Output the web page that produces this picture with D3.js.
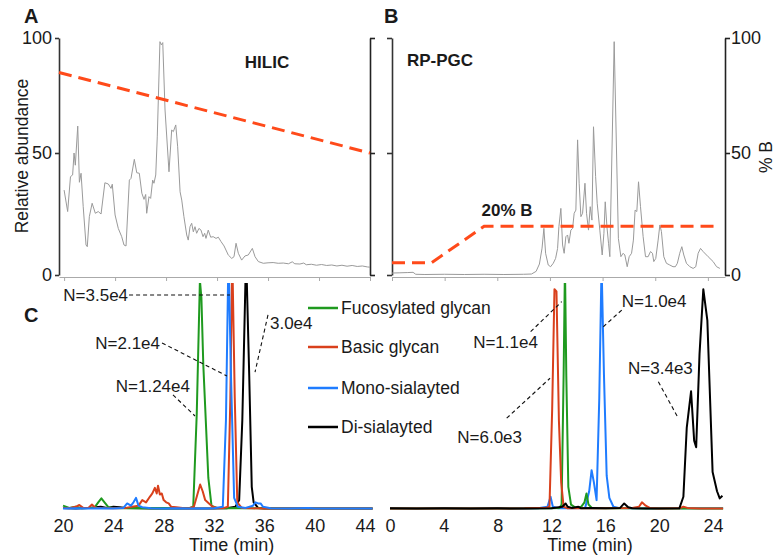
<!DOCTYPE html>
<html>
<head>
<meta charset="utf-8">
<script src="https://cdn.jsdelivr.net/npm/d3@7"></script>
<style>
  body { margin: 0; background: #fff; }
  svg { display: block; font-family: "Liberation Sans", Arial, sans-serif; }
</style>
</head>
<body>
<svg id="chart" width="777" height="555"></svg>
<script>
// ---------- data ----------
// Total ion chromatograms, [time (min), relative abundance]
const hilicTic = [
  [20.0,34.8],[20.28,26],[20.5,40.3],[20.67,41],[20.78,50],[20.88,45],[21.07,61.7],[21.2,38],[21.33,41.7],
  [21.5,28],[21.72,12.3],[21.82,11.6],[21.98,23.9],[22.2,29.4],[22.45,25.3],[22.68,26],[22.9,25],[23.2,37.8],
  [23.47,37.3],[23.68,35.5],[23.78,37.2],[24.0,24.6],[24.25,19.1],[24.52,15.7],[24.7,12.3],[24.86,11.9],
  [25.12,38.9],[25.25,39.6],[25.51,47.4],[25.7,41.9],[25.9,41.7],[26.1,33.5],[26.27,31],[26.4,33],[26.48,25.3],
  [26.66,32.1],[26.79,31.4],[26.95,38.9],[27.05,37.6],[27.19,41],[27.31,57],[27.52,98.4],[27.63,97],[27.74,98],
  [27.92,68.7],[28.23,42.3],[28.44,60],[28.57,59.3],[28.76,62.2],[28.91,52.7],[29.1,34.1],[29.23,30.7],
  [29.4,23.9],[29.62,16.4],[29.74,14.3],[29.88,19.8],[30.01,21.2],[30.14,17.7],[30.27,19.8],[30.4,17.1],
  [30.58,19.1],[30.74,18.4],[30.9,15.7],[31.03,17.1],[31.13,15],[31.31,18.4],[31.5,15.5],[31.7,15.7],
  [31.92,15],[32.1,15.5],[32.31,13.7],[32.55,11.9],[32.88,8.2],[33.15,6.8],[33.33,7.5],[33.49,13],
  [33.67,8.9],[33.93,6.1],[34.19,7.8],[34.45,8.2],[34.77,10.9],[34.98,7.5],[35.24,5.5],[35.63,4.8],
  [36.0,5.0],[36.4,5.1],[36.8,4.8],[37.2,4.9],[37.6,4.6],[37.9,5.4],[38.1,4.6],[38.5,4.5],[38.8,4.9],
  [39.0,4.2],[39.4,4.4],[39.8,4.0],[40.2,4.3],[40.6,3.9],[41.0,4.1],[41.4,3.7],[41.8,4.0],[42.2,3.6],
  [42.6,3.9],[43.0,3.5],[43.4,3.7],[43.8,3.3],[44.0,3.2]
];
const pgcTic = [
  [0,0.8],[0.6,0.9],[1.2,1.0],[1.6,1.1],[1.8,0.3],[2.5,0.2],[4,0.3],[5.5,0.2],[7,0.3],[8.5,0.2],[10,0.3],
  [10.6,0.4],[10.95,1.5],[11.2,4.5],[11.4,11],[11.54,19.1],[11.67,8.9],[11.87,4.1],[12.05,3.4],[12.25,4.8],
  [12.43,6.8],[12.58,10.9],[12.68,19.8],[12.83,27.3],[12.96,12.3],[13.08,8.9],[13.21,15.7],[13.34,16.4],
  [13.44,13],[13.59,18.4],[13.72,19.1],[13.84,25.3],[13.97,26.6],[14.1,55.7],[14.22,37.6],[14.35,23.9],
  [14.48,25.3],[14.66,37.6],[14.78,25.3],[14.93,18.4],[15.06,28],[15.19,22.5],[15.31,61.4],[15.47,40.3],
  [15.59,29.4],[15.79,18.4],[15.97,8.2],[16.1,17.1],[16.2,30],[16.33,19.8],[16.45,13],[16.55,7.5],
  [16.88,98.4],[17.2,15],[17.39,7.5],[17.56,8.9],[17.69,8.2],[17.87,3.4],[18.02,7.5],[18.2,8.9],[18.34,14.3],
  [18.47,26.6],[18.6,26],[18.73,38.2],[18.88,28],[19.08,15.7],[19.26,7.5],[19.46,7.5],[19.64,9.6],
  [19.79,8.9],[19.89,5.5],[20.04,6.8],[20.22,14.3],[20.35,20.5],[20.47,17.8],[20.65,7.5],[20.85,4.8],
  [21.1,4.1],[21.35,3.4],[21.53,3.4],[21.68,4.8],[21.86,8.9],[22.02,11.6],[22.17,8.2],[22.37,4.8],
  [22.63,3.4],[22.88,2.7],[23.08,3.4],[23.26,8.9],[23.44,10.9],[23.64,9.6],[24.02,7.5],[24.4,5.5],
  [24.66,3.4],[24.91,2.7]
];

// Mobile-phase gradients, [time (min), % B]
const hilicGradient = [[19.6, 85], [44, 50]];
const pgcGradient = [[0, 5], [3, 5], [7, 20], [24.9, 20]];

// Extracted ion chromatograms, [time (min), normalised intensity]
const hilicFucosylated = [
  [20,1.5],[20.5,0.5],[21,1],[21.5,0.3],[22,0.5],[22.5,0.6],[22.8,3],[23.05,4.8],[23.3,3],[23.6,0.8],[24,0.5],
  [25,0.3],[26,0.4],[27,0.3],[28,0.5],[29,0.3],[30,0.4],[30.35,1],[30.63,43],[30.88,103],[31.0,95],
  [31.15,65],[31.55,14],[31.8,1.5],[32.2,0.5],[33,0.3],[34,0.5],[35,0.3],[36,0.3],[38,0.2],[40,0.2],[42,0.2],[44.6,0.2]
];
const hilicBasic = [
  [20,0.5],[20.5,0.3],[21,1],[21.3,1.8],[21.6,0.5],[22,0.4],[22.3,2],[22.6,0.5],[23,0.4],[24,0.3],[25,0.5],
  [25.5,1],[26,1.5],[26.3,4],[26.6,3],[26.9,5.5],[27.1,7],[27.3,9.5],[27.45,7],[27.55,10.5],[27.7,6.5],
  [27.85,7],[28,4],[28.2,3],[28.4,2.5],[28.6,1],[29,0.8],[29.5,0.5],[30,0.3],[30.4,1],[30.65,6],[30.9,11],
  [31.1,8],[31.3,4],[31.6,2.5],[31.9,1],[32.3,0.5],[32.8,0.5],[33.1,1],[33.3,50],[33.45,115],[33.65,50],
  [33.85,3],[34.2,0.5],[35,0.3],[36,0.2],[44.6,0.2]
];
const hilicMono = [
  [20,0.2],[21,0.3],[22,0.2],[23,0.3],[24,0.2],[24.8,0.5],[25.1,2.5],[25.4,1.5],[25.6,3],[25.8,5],[26.0,1.5],
  [26.3,0.8],[27,0.3],[28,0.2],[29,0.3],[30,0.2],[31,0.2],[32,0.3],[32.7,1],[32.95,40],[33.15,115],[33.35,60],
  [33.6,5],[33.9,1],[34.5,0.5],[35.1,1.5],[35.3,3],[35.5,2.5],[35.7,2.5],[35.9,1],[36.5,0.3],[38,0.2],
  [39.5,0.5],[40,0.2],[42,0.2],[44.6,0.2]
];
const hilicDisialylated = [
  [20,0.5],[21,0.2],[22,0.5],[23,1],[23.5,0.5],[24,1],[24.5,0.8],[25,0.5],[26,0.3],[27,0.2],[28,0.2],[30,0.2],
  [32,0.2],[33,0.3],[33.7,1],[34.0,4],[34.25,40],[34.55,115],[34.8,60],[35.0,10],[35.15,3],[35.3,2],
  [35.5,0.5],[36,0.2],[38,0.2],[44.6,0.2]
];
const pgcFucosylated = [
  [0,0.2],[2,0.2],[4,0.2],[6,0.2],[8,0.2],[10,0.3],[11,0.5],[12,0.3],[12.6,0.5],[12.75,2],[12.9,60],[13.0,110],
  [13.1,60],[13.25,10],[13.45,2],[13.8,0.5],[14.2,1],[14.45,3],[14.6,7],[14.75,2],[15,0.5],[16,0.3],[17,0.5],
  [18,0.3],[20,0.2],[22,0.2],[24.75,0.2]
];
const pgcBasic = [
  [0,0.2],[4,0.2],[8,0.2],[10,0.3],[11,0.5],[11.5,0.4],[11.85,1],[12.05,45],[12.22,99],[12.37,98],[12.55,40],
  [12.72,12],[12.9,1],[13.2,0.3],[14,0.3],[16,0.3],[18,0.5],[18.5,1],[18.72,3],[19.0,1.5],[19.3,0.5],[20,0.2],
  [21.5,0.3],[21.8,1],[22.1,0.5],[23,0.2],[24.75,0.2]
];
const pgcMono = [
  [0,0.2],[4,0.2],[8,0.2],[11,0.3],[11.7,1],[11.93,5.5],[12.1,1],[12.5,0.3],[13.5,0.3],[14.5,0.5],[14.8,8],
  [14.98,17.5],[15.15,12],[15.35,4],[15.55,50],[15.72,110],[15.9,60],[16.1,15],[16.3,5],[16.6,1],[17,0.5],
  [18,0.3],[20,0.2],[22,0.3],[24.75,0.3]
];
const pgcDisialylated = [
  [0,0.3],[2,0.2],[4,0.3],[6,0.2],[8,0.3],[10,0.2],[12,0.3],[12.8,1],[13.05,2.5],[13.2,1],[13.5,0.5],[14,1],
  [14.2,0.3],[15,0.5],[16,0.3],[17.1,0.5],[17.4,2.5],[17.7,0.8],[18,0.3],[19,0.2],[21.5,0.3],[21.8,5.5],
  [22.05,36.7],[22.37,53],[22.6,30.8],[22.75,27.8],[23.0,70],[23.28,99],[23.58,85],[23.97,16.7],[24.3,8],
  [24.5,4.8],[24.7,6]
];

// Glycan classes and their colours
const glycanClasses = ["Fucosylated glycan", "Basic glycan", "Mono-sialayted", "Di-sialayted"];
const classColors = ["#1f9a1f", "#d9401c", "#1f7cff", "#000000"];

// Tick values
const abundanceTicks = [0, 50, 100];
const hilicTimeTicks = [20, 24, 28, 32, 36, 40, 44];
const pgcTimeTicks = [0, 4, 8, 12, 16, 20, 24];

// Peak-count annotations: text anchor and leader line, in data units
const hilicNotes = [
  { text: "N=3.5e4",  at: [25.17, 96.4], anchor: "end",   from: [25.25, 96.4], to: [33.27, 96.4] },
  { text: "N=2.1e4",  at: [27.71, 74.9], anchor: "end",   from: [27.87, 74.8], to: [33.03, 59.9] },
  { text: "N=1.24e4", at: [30.09, 55.4], anchor: "end",   from: [28.74, 51.4], to: [30.49, 41.9] },
  { text: "3.0e4",    at: [36.45, 83.8], anchor: "start", from: [36.29, 87.4], to: [35.26, 61.7] }
];
const pgcNotes = [
  { text: "N=1.1e4", at: [10.99, 75.4], anchor: "end",   from: [10.45, 79.9], to: [12.76, 93.4] },
  { text: "N=6.0e3", at: [9.81, 32.4],  anchor: "end",   from: [8.67, 40.9],  to: [11.89, 58.9] },
  { text: "N=1.0e4", at: [17.22, 93.8], anchor: "start", from: [17.22, 89.6], to: [15.85, 82.1] },
  { text: "N=3.4e3", at: [17.69, 63.5], anchor: "start", from: [19.94, 57.3], to: [21.42, 40.9] }
];

// ---------- drawing ----------
const svg = d3.select("#chart");
const ink = "#1a1a1a";
const fontSize = 17;

// Scales
const yTop = d3.scaleLinear().domain([0, 50, 100]).range([275, 153, 38]);
const xA = d3.scaleLinear().domain([19.6, 44]).range([59, 370]);
const xB = d3.scaleLinear().domain([0, 25.3]).range([392, 725]);
const xCL = d3.scaleLinear().domain([20, 44]).range([63, 365]);
const xCR = d3.scaleLinear().domain([0, 24]).range([390, 713]);
const yC = d3.scaleLinear().domain([0, 100]).range([509, 287]);

function styleAxis(g, color, width, showText) {
  g.selectAll("path.domain").attr("stroke", color).attr("stroke-width", width);
  g.selectAll(".tick line").attr("stroke", color).attr("stroke-width", width);
  g.selectAll(".tick text").attr("fill", ink).style("font-size", "18px")
    .style("font-family", '"Liberation Sans", Arial, sans-serif');
  if (!showText) g.selectAll(".tick text").remove();
}

// Panel A axes
svg.append("g").attr("transform", "translate(59,0)")
  .call(d3.axisLeft(yTop).tickValues(abundanceTicks).tickSize(4).tickSizeOuter(0).tickPadding(3))
  .call(g => styleAxis(g, "#333", 1.6, true));
svg.append("g").attr("transform", "translate(370,0)")
  .call(d3.axisRight(yTop).tickValues(abundanceTicks).tickSize(5).tickSizeOuter(0))
  .call(g => styleAxis(g, "#222", 1.6, false));
svg.append("g").attr("transform", "translate(0,277)")
  .call(d3.axisBottom(xA).tickValues(hilicTimeTicks).tickSize(4).tickSizeOuter(0))
  .call(g => styleAxis(g, "#aaa", 1, false));

// Panel B axes
svg.append("g").attr("transform", "translate(392,0)")
  .call(d3.axisLeft(yTop).tickValues(abundanceTicks).tickSize(5).tickSizeOuter(0))
  .call(g => styleAxis(g, "#333", 1.6, false));
svg.append("g").attr("transform", "translate(725,0)")
  .call(d3.axisRight(yTop).tickValues(abundanceTicks).tickSize(5).tickSizeOuter(0).tickPadding(1))
  .call(g => styleAxis(g, "#222", 1.6, true));
svg.append("g").attr("transform", "translate(0,277)")
  .call(d3.axisBottom(xB).tickValues(pgcTimeTicks).tickSize(4).tickSizeOuter(0))
  .call(g => styleAxis(g, "#aaa", 1, false));

// Chromatograms
const ticLineA = d3.line().x(d => xA(d[0])).y(d => yTop(d[1]));
const ticLineB = d3.line().x(d => xB(d[0])).y(d => yTop(d[1]));
svg.append("path").datum(hilicTic).attr("d", ticLineA)
  .attr("fill", "none").attr("stroke", "#9a9a9a").attr("stroke-width", 1);
svg.append("path").datum(pgcTic).attr("d", ticLineB)
  .attr("fill", "none").attr("stroke", "#9a9a9a").attr("stroke-width", 1);

// Gradients
const gradColor = "#ff4a1a";
svg.append("path").datum(hilicGradient).attr("d", ticLineA)
  .attr("fill", "none").attr("stroke", gradColor).attr("stroke-width", 3).attr("stroke-dasharray", "13,7");
svg.append("path").datum(pgcGradient).attr("d", ticLineB)
  .attr("fill", "none").attr("stroke", gradColor).attr("stroke-width", 3).attr("stroke-dasharray", "13,7");

// Panel titles and labels
function label(x, y, text, opts = {}) {
  const t = svg.append("text").attr("x", x).attr("y", y).text(text)
    .attr("fill", opts.fill || ink)
    .style("font-size", (opts.size || fontSize) + "px")
    .style("font-weight", opts.bold ? "bold" : "normal")
    .attr("text-anchor", opts.anchor || "start");
  if (opts.rotate) t.attr("transform", `rotate(-90,${x},${y})`);
  return t;
}
label(24, 23, "A", { bold: true, size: 20 });
label(384, 23, "B", { bold: true, size: 20 });
label(24, 322, "C", { bold: true, size: 20 });
label(267, 68, "HILIC", { bold: true, anchor: "middle" });
label(407, 66, "RP-PGC", { bold: true });
label(xB(6.8), 216, "20% B", { bold: true });
label(28, 156, "Relative abundance", { rotate: true, anchor: "middle", size: 17.5 });
label(772, 157, "% B", { rotate: true, anchor: "middle", size: 17.5 });

// Panel C: extracted ion chromatograms
svg.append("defs").append("clipPath").attr("id", "clipC")
  .append("rect").attr("x", 0).attr("y", 283).attr("width", 777).attr("height", 240);
const gC = svg.append("g").attr("clip-path", "url(#clipC)");
const lineCL = d3.line().x(d => xCL(d[0])).y(d => yC(d[1]));
const lineCR = d3.line().x(d => xCR(d[0])).y(d => yC(d[1]));
const hilicSeries = [hilicFucosylated, hilicBasic, hilicMono, hilicDisialylated];
const pgcSeries = [pgcFucosylated, pgcBasic, pgcMono, pgcDisialylated];
// draw order: black underneath, then others
[3, 0, 1, 2].forEach(i => {
  gC.append("path").datum(hilicSeries[i]).attr("d", lineCL)
    .attr("fill", "none").attr("stroke", classColors[i]).attr("stroke-width", 2).attr("stroke-linejoin", "round");
});
[2, 0, 1, 3].forEach(i => {
  gC.append("path").datum(pgcSeries[i]).attr("d", lineCR)
    .attr("fill", "none").attr("stroke", classColors[i]).attr("stroke-width", 2).attr("stroke-linejoin", "round");
});

// Time axes (labels only)
svg.append("g").attr("transform", "translate(0,513)")
  .call(d3.axisBottom(xCL).tickValues(hilicTimeTicks).tickSize(0).tickPadding(6))
  .call(g => { g.select(".domain").remove(); styleAxis(g, ink, 1, true); });
svg.append("g").attr("transform", "translate(0,513)")
  .call(d3.axisBottom(xCR).tickValues(pgcTimeTicks).tickSize(0).tickPadding(6))
  .call(g => { g.select(".domain").remove(); styleAxis(g, ink, 1, true); });
label(xCL(33.4), 551, "Time (min)", { anchor: "middle", size: 18 });
label(xCR(14.86), 551, "Time (min)", { anchor: "middle", size: 18 });

// Annotations
function drawNotes(notes, xs) {
  notes.forEach(n => {
    svg.append("line")
      .attr("x1", xs(n.from[0])).attr("y1", yC(n.from[1]))
      .attr("x2", xs(n.to[0])).attr("y2", yC(n.to[1]))
      .attr("stroke", "#111").attr("stroke-width", 1.1).attr("stroke-dasharray", "4,3");
    svg.append("text").attr("x", xs(n.at[0])).attr("y", yC(n.at[1])).attr("dy", "0.35em")
      .attr("text-anchor", n.anchor).attr("fill", ink).style("font-size", fontSize + "px").text(n.text);
  });
}
drawNotes(hilicNotes, xCL);
drawNotes(pgcNotes, xCR);

// Legend
const legendRows = [308, 347, 388, 427];
glycanClasses.forEach((name, i) => {
  const y = legendRows[i];
  svg.append("line").attr("x1", 308).attr("x2", 338).attr("y1", y).attr("y2", y)
    .attr("stroke", classColors[i]).attr("stroke-width", 2.5);
  svg.append("text").attr("x", 341).attr("y", y).attr("dy", "0.35em")
    .attr("fill", ink).style("font-size", "17.5px").text(name);
});
</script>
</body>
</html>
